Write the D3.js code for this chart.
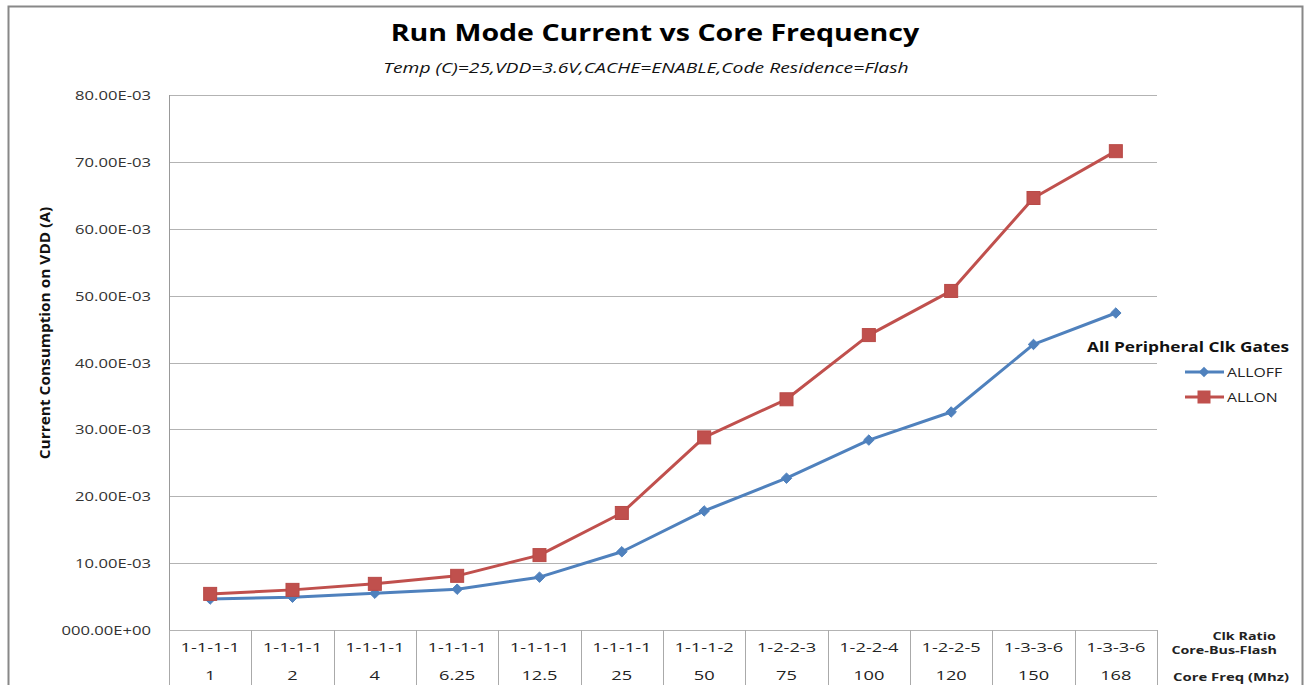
<!DOCTYPE html>
<html><head><meta charset="utf-8">
<script src="https://cdn.jsdelivr.net/npm/d3@7"></script>
<style>body{margin:0;background:#fff;}svg{display:block;font-family:"Open Sans",sans-serif;}</style>
</head><body>
<svg id="c" width="1304" height="685"></svg>
<script>
const clkRatios = ["1-1-1-1","1-1-1-1","1-1-1-1","1-1-1-1","1-1-1-1","1-1-1-1","1-1-1-2","1-2-2-3","1-2-2-4","1-2-2-5","1-3-3-6","1-3-3-6"];
const coreFreqs = ["1","2","4","6.25","12.5","25","50","75","100","120","150","168"];
const allOff = [4.63e-3,4.9e-3,5.5e-3,6.1e-3,7.9e-3,11.7e-3,17.8e-3,22.7e-3,28.4e-3,32.6e-3,42.7e-3,47.4e-3];
const allOn  = [5.4e-3,6.0e-3,6.9e-3,8.1e-3,11.2e-3,17.5e-3,28.8e-3,34.5e-3,44.1e-3,50.7e-3,64.6e-3,71.6e-3];
const yTicks = [0,0.01,0.02,0.03,0.04,0.05,0.06,0.07,0.08];
const yTickLabels = ["000.00E+00","10.00E-03","20.00E-03","30.00E-03","40.00E-03","50.00E-03","60.00E-03","70.00E-03","80.00E-03"];

const svg = d3.select("#c");
const L=169, R=1157, T=95, B=630;
function stretch(sel, f){
  sel.each(function(){
    const w = this.getComputedTextLength();
    this.setAttribute("textLength", (w*f).toFixed(1));
    this.setAttribute("lengthAdjust","spacingAndGlyphs");
  });
}
// outer border
svg.append("path").attr("d","M8.5,690 V6.5 H1302.5 V690").attr("fill","none").attr("stroke","#888").attr("stroke-width",2);

const idx = d3.range(coreFreqs.length);
const x = d3.scaleBand().domain(idx).range([L,R]);
const y = d3.scaleLinear().domain([0,0.08]).range([B,T]);

// gridlines
svg.append("g").selectAll("line").data(yTicks).join("line")
  .attr("x1",L).attr("x2",R).attr("y1",d=>Math.round(y(d))+0.5).attr("y2",d=>Math.round(y(d))+0.5)
  .attr("stroke","#b3b3b3").attr("stroke-width",1);
// y axis line
svg.append("line").attr("x1",L+0.5).attr("x2",L+0.5).attr("y1",T).attr("y2",685).attr("stroke","#999");
// y tick labels
svg.append("g").selectAll("text").data(yTicks).join("text")
  .attr("x",151).attr("y",d=>y(d)+5).attr("text-anchor","end")
  .attr("font-size",13.5).attr("fill","#333").text((d,i)=>yTickLabels[i])
  .call(stretch,1.23);

// category separators (table)
svg.append("g").selectAll("line").data(d3.range(coreFreqs.length+1)).join("line")
  .attr("x1",i=>Math.round(L+i*x.step())+0.5).attr("x2",i=>Math.round(L+i*x.step())+0.5)
  .attr("y1",B).attr("y2",685).attr("stroke","#aaa");
const cx = i=>x(i)+x.bandwidth()/2;
svg.append("g").selectAll("text").data(clkRatios).join("text")
  .attr("x",(d,i)=>cx(i)).attr("y",652).attr("text-anchor","middle").attr("font-size",13.5).attr("fill","#222").text(d=>d)
  .call(stretch,1.35);
svg.append("g").selectAll("text").data(coreFreqs).join("text")
  .attr("x",(d,i)=>cx(i)).attr("y",680).attr("text-anchor","middle").attr("font-size",13.5).attr("fill","#222").text(d=>d)
  .call(stretch,1.35);

// right labels
const rl = svg.append("g").attr("font-size",11).attr("font-weight","bold").attr("fill","#222").attr("text-anchor","end");
rl.append("text").attr("x",1276).attr("y",640).text("Clk Ratio").call(stretch,1.3);
rl.append("text").attr("x",1277).attr("y",654).text("Core-Bus-Flash").call(stretch,1.3);
rl.append("text").attr("x",1289).attr("y",681).text("Core Freq (Mhz)").call(stretch,1.35);

// lines
const line = d3.line().x((d,i)=>cx(i)).y(d=>y(d));
svg.append("path").datum(allOff).attr("d",line).attr("fill","none").attr("stroke","#4F81BD").attr("stroke-width",3).attr("stroke-linejoin","round");
svg.append("path").datum(allOn).attr("d",line).attr("fill","none").attr("stroke","#C0504D").attr("stroke-width",3).attr("stroke-linejoin","round");
const diamond = d3.symbol().type(d3.symbolDiamond2).size(70);
svg.append("g").selectAll("path").data(allOff).join("path")
  .attr("transform",(d,i)=>`translate(${cx(i)},${y(d)})`).attr("d",diamond).attr("fill","#4F81BD").attr("stroke","#4F81BD").attr("stroke-width",1);
svg.append("g").selectAll("rect").data(allOn).join("rect")
  .attr("x",(d,i)=>cx(i)-6.5).attr("y",d=>y(d)-6.5).attr("width",13).attr("height",13)
  .attr("fill","#C0504D").attr("stroke","#B84A47").attr("stroke-width",1);

// titles
svg.append("text").attr("x",655).attr("y",41).attr("text-anchor","middle").attr("font-size",23).attr("font-weight","bold").attr("fill","#000").text("Run Mode Current vs Core Frequency").call(stretch,1.24);
svg.append("text").attr("x",646).attr("y",73).attr("text-anchor","middle").attr("font-size",14.5).attr("font-style","italic").attr("fill","#111").text("Temp (C)=25,VDD=3.6V,CACHE=ENABLE,Code Residence=Flash").call(stretch,1.33);
svg.append("text").attr("transform","translate(50,333) rotate(-90)").attr("text-anchor","middle")
  .attr("font-size",14).attr("font-weight","bold").attr("fill","#111")
  .text("Current Consumption on VDD (A)").call(stretch,1.1);

// legend
const lg = svg.append("g");
lg.append("text").attr("x",1087).attr("y",352).attr("font-size",14.5).attr("font-weight","bold").attr("fill","#111").text("All Peripheral Clk Gates").call(stretch,1.19);
lg.append("line").attr("x1",1185).attr("x2",1224).attr("y1",372).attr("y2",372).attr("stroke","#4F81BD").attr("stroke-width",3);
lg.append("path").attr("transform","translate(1204,372)").attr("d",diamond).attr("fill","#4F81BD");
lg.append("text").attr("x",1227).attr("y",377).attr("font-size",13.5).attr("fill","#222").text("ALLOFF").call(stretch,1.17);
lg.append("line").attr("x1",1185).attr("x2",1224).attr("y1",397).attr("y2",397).attr("stroke","#C0504D").attr("stroke-width",3);
lg.append("rect").attr("x",1197.5).attr("y",390.5).attr("width",13).attr("height",13).attr("fill","#C0504D");
lg.append("text").attr("x",1227).attr("y",402).attr("font-size",13.5).attr("fill","#222").text("ALLON").call(stretch,1.17);
</script>
</body></html>
